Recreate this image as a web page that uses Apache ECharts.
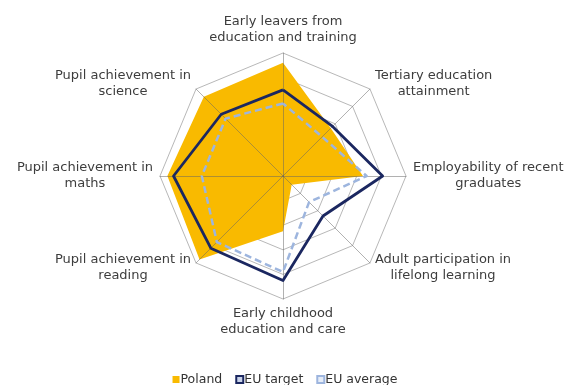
<!DOCTYPE html>
<html>
<head>
<meta charset="utf-8">
<script src="https://cdn.jsdelivr.net/npm/echarts@6/dist/echarts.min.js"></script>
<style>
  html, body { margin: 0; padding: 0; background: #ffffff; }
  #chart { width: 570px; height: 385px; }
</style>
</head>
<body>
<div id="chart"></div>
<script>
// Indicators, listed counter-clockwise from the top as ECharts lays them out
const indicatorNames = [
  'Early leavers from\neducation and training',
  'Pupil achievement in\nscience',
  'Pupil achievement in\nmaths',
  'Pupil achievement in\nreading',
  'Early childhood\neducation and care',
  'Adult participation in\nlifelong learning',
  'Employability of recent\ngraduates',
  'Tertiary education\nattainment'
];
const indicatorMax = 100;

const seriesNames = ['Poland', 'EU target', 'EU average'];
const polandValues    = [92, 91, 94, 96, 45, 10, 65, 55];
const euTargetValues  = [70, 71, 89, 83, 85, 46, 81, 57];
const euAverageValues = [59, 66, 66, 76, 78, 30, 68, 45];

const YELLOW = '#F9BA00';
const NAVY = '#1B2760';
const LIGHT_BLUE = '#9DB5DE';
const LABEL_COLOR = '#3d3d3d';

const chart = echarts.init(document.getElementById('chart'), null, { renderer: 'canvas' });

// Each name line is a centred rich token so the two lines centre on each other
function centredName(name) {
  return name.split('\n').map(function (line) { return '{c|' + line + '}'; }).join('\n');
}

const indicators = indicatorNames.map(function (n) { return { name: n, max: indicatorMax, min: 0 }; });
const RADAR_CENTER = [283, 176];
const RADAR_RADIUS = 123;

chart.setOption({
  animation: false,
  backgroundColor: '#ffffff',
  legend: {
    left: 'center',
    top: 373,
    padding: 0,
    itemWidth: 7,
    itemHeight: 7,
    itemGap: 13,
    icon: 'rect',
    textStyle: { fontFamily: 'DejaVu Sans', fontSize: 12.5, color: '#333333', padding: [0, 0, 0, -4] },
    data: [
      { name: seriesNames[0], itemStyle: { color: YELLOW, borderWidth: 0 } },
      { name: seriesNames[1], itemStyle: { color: '#c9d3ea', borderColor: NAVY, borderWidth: 2 } },
      { name: seriesNames[2], itemStyle: { color: '#e6edf8', borderColor: LIGHT_BLUE, borderWidth: 2 } }
    ]
  },
  radar: [
    {
      // rings and indicator names, beneath the filled area
      z: 0,
      center: RADAR_CENTER,
      radius: RADAR_RADIUS,
      startAngle: 90,
      splitNumber: 5,
      shape: 'polygon',
      nameGap: 7,
      indicator: indicators,
      axisName: {
        formatter: centredName,
        color: LABEL_COLOR,
        fontFamily: 'DejaVu Sans',
        fontSize: 13,
        lineHeight: 16,
        rich: {
          c: { align: 'center', fontFamily: 'DejaVu Sans', fontSize: 13, lineHeight: 16, color: LABEL_COLOR }
        }
      },
      axisLine: { show: false },
      splitLine: { lineStyle: { color: '#b8b8b8', width: 1 } },
      splitArea: { show: false }
    },
    {
      // radial spokes, drawn over the filled area
      z: 3,
      center: RADAR_CENTER,
      radius: RADAR_RADIUS,
      startAngle: 90,
      splitNumber: 5,
      shape: 'polygon',
      indicator: indicators,
      axisName: { show: false },
      axisLine: { lineStyle: { color: 'rgba(100,100,100,0.5)', width: 1 } },
      splitLine: { show: false },
      splitArea: { show: false }
    }
  ],
  series: [
    {
      type: 'radar',
      radarIndex: 0,
      z: 2,
      symbol: 'none',
      silent: true,
      data: [
        {
          name: seriesNames[0],
          value: polandValues,
          lineStyle: { width: 0, color: YELLOW },
          itemStyle: { color: YELLOW },
          areaStyle: { color: YELLOW, opacity: 1 }
        }
      ]
    },
    {
      type: 'radar',
      radarIndex: 0,
      z: 4,
      symbol: 'none',
      silent: true,
      data: [
        {
          name: seriesNames[2],
          value: euAverageValues,
          lineStyle: { width: 2.5, color: LIGHT_BLUE, type: [7, 4] },
          itemStyle: { color: LIGHT_BLUE }
        },
        {
          name: seriesNames[1],
          value: euTargetValues,
          lineStyle: { width: 2.8, color: NAVY },
          itemStyle: { color: NAVY }
        }
      ]
    }
  ]
});
</script>
</body>
</html>
